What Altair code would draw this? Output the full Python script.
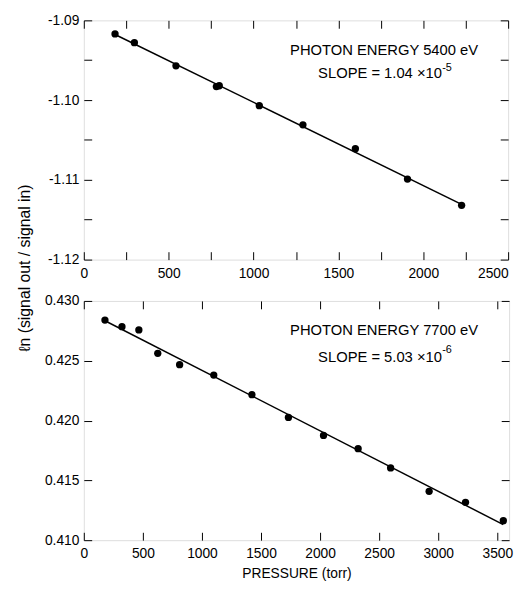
import altair as alt
import pandas as pd

# ---- data ----
top_pressure = [184, 298, 543, 781, 798, 1034, 1291, 1600, 1907, 2226]
top_ln = [-1.0917, -1.0928, -1.0957, -1.0983, -1.0982, -1.1007, -1.1031, -1.1061, -1.1099, -1.1132]

bot_pressure = [179, 323, 466, 626, 811, 1100, 1423, 1732, 2029, 2322, 2597, 2923, 3231, 3551]
bot_ln = [0.4284, 0.42785, 0.42758, 0.42562, 0.42467, 0.4238, 0.42216, 0.42026,
          0.41876, 0.41765, 0.41604, 0.41408, 0.41316, 0.41163]

top_xticks = list(range(0, 2501, 250))
top_yticks = [-1.09, -1.095, -1.10, -1.105, -1.11, -1.115, -1.12]
bot_xticks = list(range(0, 3501, 500))
bot_yticks = [0.410, 0.415, 0.420, 0.425, 0.430]

top_text = ["PHOTON ENERGY 5400 eV", "SLOPE = 1.04 \u00d710", "-5"]
bot_text = ["PHOTON ENERGY 7700 eV", "SLOPE = 5.03 \u00d710", "-6"]

x_title = "PRESSURE  (torr)"
y_title = "\u2113n  (signal out / signal in)"

FONT = "Liberation Sans, Arial, sans-serif"
TICK = 8


def panel(pressure, values, xdom, xticks, xlabel_expr, ydom, yticks, ylabel_expr, texts,
          xtitle=None, ytitle=None, width=432, height=248, ty=(32, 57, 50), last_right=None):
    df = pd.DataFrame({"p": pressure, "v": values})
    base = alt.Chart(df)
    xs = alt.Scale(domain=xdom, nice=False, zero=False)
    ys = alt.Scale(domain=ydom, nice=False, zero=False)

    xaxis_kw = dict(orient="bottom", values=xticks, labelExpr=xlabel_expr, offset=-TICK,
                    tickSize=TICK, domain=False, grid=False, labelPadding=7,
                    labelFontSize=14, labelFont=FONT, labelColor="black", tickColor="black",
                    labelFlush=False, labelOverlap=False)
    if last_right is not None:
        xaxis_kw["labelAlign"] = {"condition": {"test": f"datum.value == {last_right}",
                                                "value": "right"}, "value": "center"}
    if xtitle:
        xaxis_kw.update(title=xtitle, titleFont=FONT, titleFontSize=14, titleFontWeight="normal",
                        titlePadding=6, titleColor="black")
    else:
        xaxis_kw.update(title=None)
    yaxis_kw = dict(orient="left", values=yticks, labelExpr=ylabel_expr,
                    offset=-TICK, tickSize=TICK, domain=False, grid=False, labelPadding=5,
                    labelFontSize=14, labelFont=FONT, labelColor="black", tickColor="black",
                    labelFlush=False, labelOverlap=False)
    if ytitle:
        yaxis_kw.update(title=ytitle, titleFont=FONT, titleFontSize=16, titleFontWeight="normal",
                        titleAngle=270, titleX=-68, titleY=-34, titleAlign="center",
                        titleBaseline="middle", titleColor="black")
    else:
        yaxis_kw.update(title=None)

    points = base.mark_circle(size=55, color="black", opacity=1).encode(
        x=alt.X("p:Q", scale=xs, axis=alt.Axis(**xaxis_kw)),
        y=alt.Y("v:Q", scale=ys, axis=alt.Axis(**yaxis_kw)),
    )
    line = base.transform_regression("p", "v").mark_line(color="black", strokeWidth=1.5).encode(
        x=alt.X("p:Q", scale=xs, axis=None),
        y=alt.Y("v:Q", scale=ys, axis=None),
    )
    frame_axes = base.mark_point(opacity=0).encode(
        x=alt.X("p:Q", scale=xs, axis=alt.Axis(orient="top", values=xticks, labels=False,
                                               offset=-TICK, tickSize=TICK, domain=False,
                                               grid=False, title=None, tickColor="black")),
        y=alt.Y("v:Q", scale=ys, axis=alt.Axis(orient="right", values=yticks, labels=False,
                                               offset=-TICK, tickSize=TICK, domain=False,
                                               grid=False, title=None, tickColor="black")),
    )
    t1 = alt.Chart(pd.DataFrame({"t": [texts[0]]})).mark_text(
        font=FONT, fontSize=15, color="black", align="center", baseline="middle").encode(
        x=alt.value(305), y=alt.value(ty[0]), text="t:N")
    t2 = alt.Chart(pd.DataFrame({"t": [texts[1]]})).mark_text(
        font=FONT, fontSize=15, color="black", align="left", baseline="middle").encode(
        x=alt.value(238), y=alt.value(ty[1]), text="t:N")
    t3 = alt.Chart(pd.DataFrame({"t": [texts[2]]})).mark_text(
        font=FONT, fontSize=11, color="black", align="left", baseline="middle").encode(
        x=alt.value(364), y=alt.value(ty[2]), text="t:N")

    return alt.layer(points, line, frame_axes, t1, t2, t3).resolve_axis(
        x="independent", y="independent").properties(width=width, height=height)


top_ylab = ("abs(round(datum.value*1000)) % 10 == 0 ? "
            "replace(format(datum.value, '.2f'), '\u2212', '-') : ''")
bot_ylab = "format(datum.value, '.3f')"

top = panel(top_pressure, top_ln, [0, 2500], top_xticks,
            "datum.value % 500 == 0 ? format(datum.value, 'd') : ''",
            [-1.12, -1.09], top_yticks, top_ylab, top_text, width=431, height=243,
            ty=(30, 54, 48), last_right=2500)
bottom = panel(bot_pressure, bot_ln, [0, 3600], bot_xticks, "format(datum.value, 'd')",
               [0.410, 0.430], bot_yticks, bot_ylab, bot_text,
               xtitle=x_title, ytitle=y_title, width=432, height=243, ty=(30, 57, 50))

chart = alt.vconcat(top, bottom, spacing=42, bounds="flush").properties(
    padding={"left": 8, "top": 0, "right": 2, "bottom": 0}
).configure_view(stroke="black", strokeWidth=1).configure(background="white")

chart.save("out.html", embed_options={"renderer": "svg", "actions": False})
